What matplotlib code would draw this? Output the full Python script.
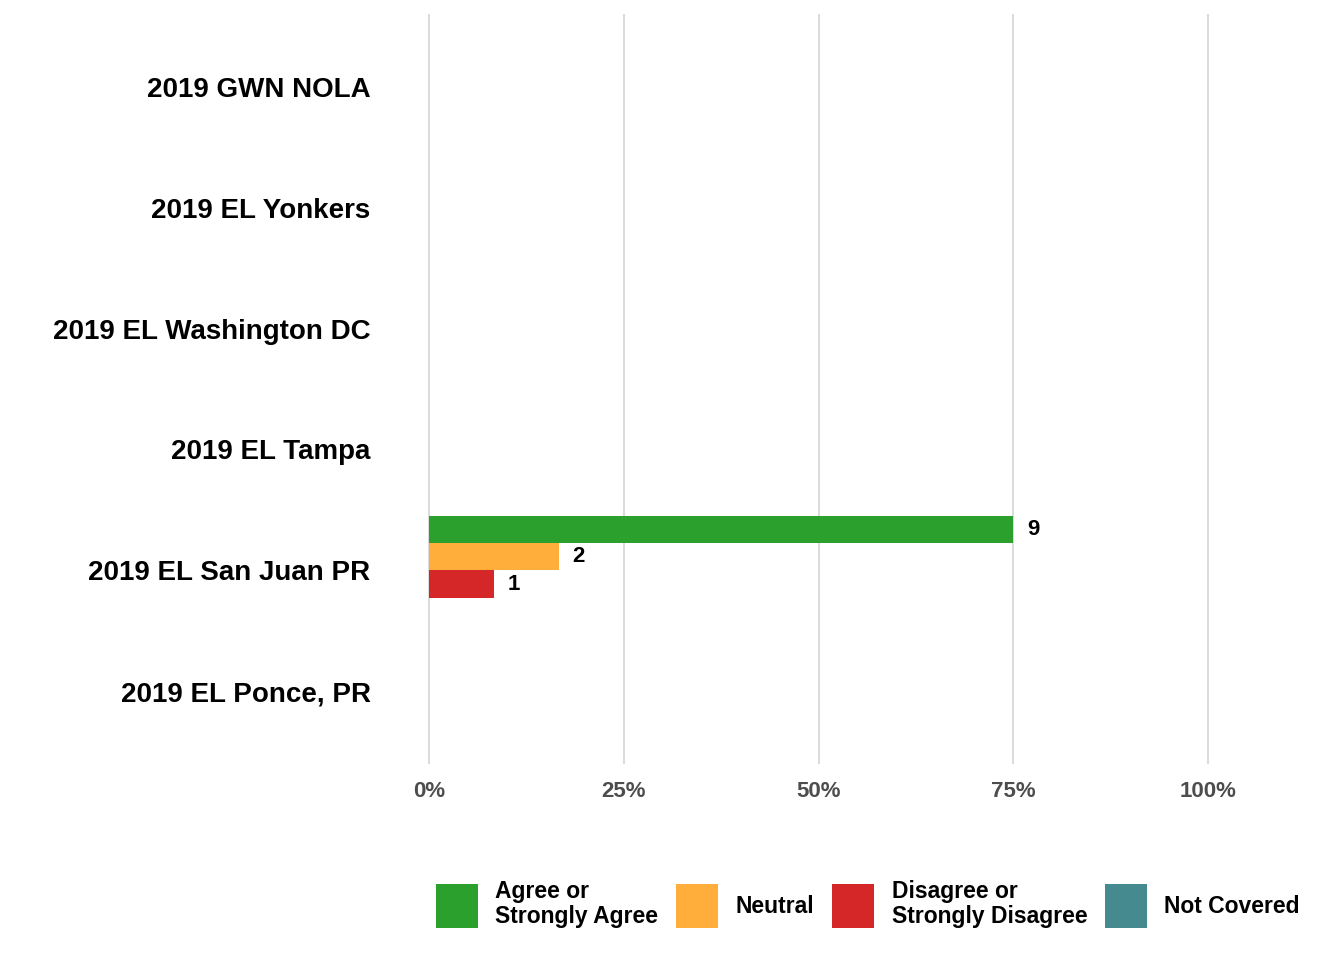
import matplotlib
matplotlib.use("Agg")
import matplotlib.pyplot as plt
from matplotlib.patches import Patch
import numpy as np

plt.rcParams['font.family'] = ['Liberation Sans', 'DejaVu Sans']
plt.rcParams['font.weight'] = 'bold'

# Data
sites = ["2019 EL Ponce, PR", "2019 EL San Juan PR", "2019 EL Tampa",
         "2019 EL Washington DC", "2019 EL Yonkers", "2019 GWN NOLA"]
responses = ["Agree or\nStrongly Agree", "Neutral", "Disagree or\nStrongly Disagree", "Not Covered"]
colors = ["#2CA02C", "#FFAE3C", "#D62728", "#458A8F"]
# counts per response (rows) per site (columns, same order as sites)
agree = [0, 9, 0, 0, 0, 0]
neutral = [0, 2, 0, 0, 0, 0]
disagree = [0, 1, 0, 0, 0, 0]
not_covered = [0, 0, 0, 0, 0, 0]
xticks = [0, 0.25, 0.5, 0.75, 1.0]
xticklabels = ["0%", "25%", "50%", "75%", "100%"]

counts = np.array([agree, neutral, disagree, not_covered], dtype=float)
totals = counts.sum(axis=0)
pct = np.divide(counts, totals, out=np.zeros_like(counts), where=totals > 0)

fig = plt.figure(figsize=(13.44, 9.6), dpi=100)
ax = fig.add_axes([390/1344, 1-764/960, 857/1344, 750/960])

n = len(responses)
bh = 0.9 / n
y = np.arange(len(sites))
for i in range(n):
    offs = 0.45 - bh * (i + 0.5)
    ax.barh(y + offs, pct[i], height=bh, color=colors[i], zorder=3)
    for j in range(len(sites)):
        if counts[i, j] > 0:
            ax.annotate(f"{int(counts[i, j])}", (pct[i, j], y[j] + offs),
                        xytext=(10, 0), textcoords='offset points',
                        ha='left', va='center', fontsize=16, fontweight='bold',
                        color='black', zorder=4)

ax.set_xlim(-0.05, 1.05)
ax.set_ylim(-0.6, len(sites) - 0.4)
ax.set_yticks(y)
ax.set_yticklabels(sites, fontsize=20, fontweight='bold', color='black')
ax.set_xticks(xticks)
ax.set_xticklabels(xticklabels, fontsize=16, fontweight='bold', color='#4D4D4D')
ax.tick_params(axis='y', length=0, pad=14)
ax.tick_params(axis='x', length=0, pad=12)
for s in ax.spines.values():
    s.set_visible(False)
ax.grid(axis='x', color='#DADADA', linewidth=1.4, zorder=0)
ax.grid(axis='y', visible=False)
ax.set_axisbelow(True)

handles = [Patch(facecolor=c, edgecolor='none') for c in colors]
leg = fig.legend(handles, responses, ncol=4, loc='center',
                 bbox_to_anchor=(868/1344, 1-904/960),
                 frameon=False, fontsize=16.5, handlelength=1.83, handleheight=2.53,
                 handletextpad=0.76, columnspacing=0.78, borderpad=0, borderaxespad=0)
for t in leg.get_texts():
    t.set_fontweight('bold')
    t.set_linespacing(1.12)

fig.savefig("out.png", dpi=100, facecolor='white')
